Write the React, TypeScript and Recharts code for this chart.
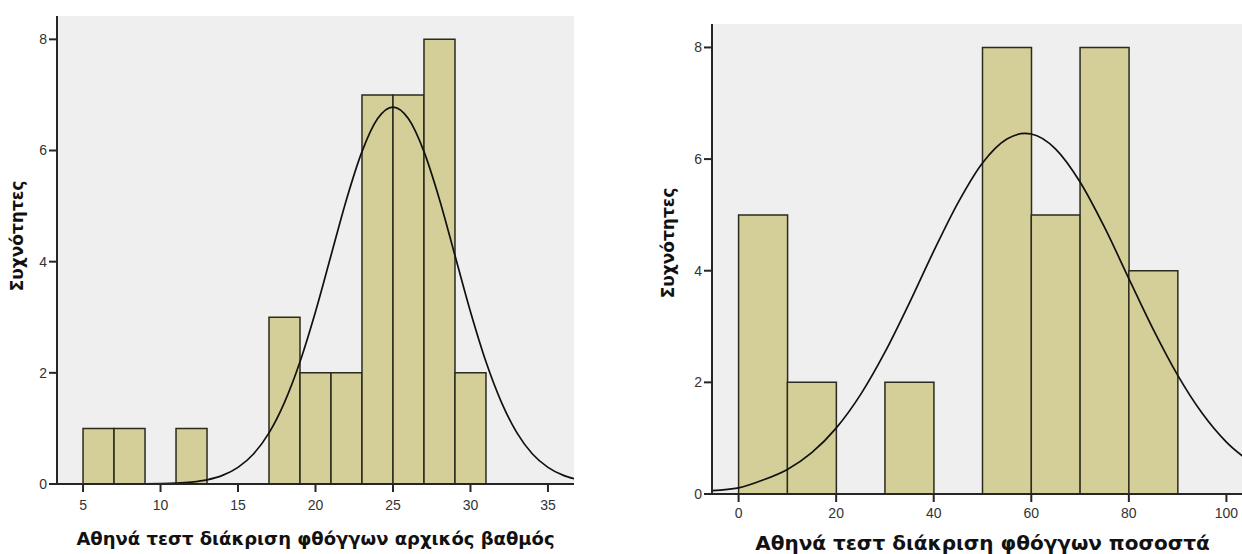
import { ComposedChart, Bar, Line, XAxis, YAxis, CartesianGrid, Label } from "recharts";

// left histogram: initial score (bin width 2, bin centers)
const scoreBins = [6, 8, 10, 12, 14, 16, 18, 20, 22, 24, 26, 28, 30];
const scoreCounts = [1, 1, 0, 1, 0, 0, 3, 2, 2, 7, 7, 8, 2];
const scoreTicks = [5, 10, 15, 20, 25, 30, 35];
const scoreCurveX = [3.32, 5, 6, 7, 8, 9, 10, 11, 12, 13, 14, 15, 16, 17, 18, 19, 20, 21, 22, 23, 24, 25, 26, 27, 28, 29, 30, 31, 32, 33, 34, 35, 36, 36.68];
const scoreCurveY = [0, 0, 0, 0, 0.001, 0.002, 0.006, 0.015, 0.035, 0.075, 0.155, 0.3, 0.54, 0.92, 1.47, 2.2, 3.1, 4.11, 5.12, 5.98, 6.57, 6.78, 6.57, 5.98, 5.12, 4.11, 3.1, 2.2, 1.47, 0.92, 0.54, 0.3, 0.155, 0.096];

// right histogram: percentage (bin width 10, bin centers)
const pctBins = [5, 15, 25, 35, 45, 55, 65, 75, 85];
const pctCounts = [5, 2, 0, 2, 0, 8, 5, 8, 4];
const pctTicks = [0, 20, 40, 60, 80, 100];
const pctCurveX = [-5.45, 0, 5, 10, 15, 20, 25, 30, 35, 40, 45, 50, 55, 58.7, 60, 65, 70, 75, 80, 85, 90, 95, 100, 105.45];
const pctCurveY = [0.061, 0.11, 0.25, 0.44, 0.74, 1.18, 1.78, 2.54, 3.42, 4.35, 5.22, 5.93, 6.36, 6.46, 6.45, 6.18, 5.59, 4.78, 3.86, 2.95, 2.13, 1.45, 0.93, 0.54];

const freqTicks = [0, 2, 4, 6, 8];
const yLabel = "Συχνότητες";

const FILL = "#d4cf98";
const EDGE = "#2a2a1e";
const FRAME = "#262626";
const BG = "#efefef";
const FONT = "'Liberation Sans', Arial, sans-serif";
const TITLE_FONT = "'DejaVu Sans', Verdana, sans-serif";

interface HistProps {
  bins: number[];
  counts: number[];
  ticks: number[];
  curveX: number[];
  curveY: number[];
  domain: [number, number];
  title: string;
  titleSize: number;
  width: number;
  height: number;
  margin: { top: number; right: number; left: number; bottom: number };
  xAxisHeight: number;
  tickGap: number;
  titleOffset: number;
  yTitleOffset: number;
  yTitleShift: number;
}

function Histogram(p: HistProps) {
  const data = p.bins.map((b, i) => ({ x: b, n: p.counts[i] }));
  const curve = p.curveX.map((x, i) => ({ x, y: p.curveY[i] }));
  const frame = { stroke: FRAME, strokeWidth: 2 };
  return (
    <ComposedChart
      width={p.width}
      height={p.height}
      data={data}
      margin={p.margin}
      barCategoryGap={0}
      barGap={0}
    >
      <CartesianGrid fill={BG} horizontal={false} vertical={false} xAxisId="bins" />
      <XAxis
        xAxisId="bins"
        dataKey="x"
        type="number"
        domain={p.domain}
        ticks={p.ticks}
        allowDataOverflow
        height={p.xAxisHeight}
        tickSize={8}
        tickMargin={p.tickGap}
        stroke={FRAME}
        axisLine={frame}
        tickLine={frame}
        tick={{ fontSize: 14, fill: "#333", fontFamily: FONT }}
      >
        <Label
          value={p.title}
          position="insideBottom"
          offset={p.titleOffset}
          style={{ fontSize: p.titleSize, fontWeight: "bold", fill: "#111", fontFamily: TITLE_FONT }}
        />
      </XAxis>
      <XAxis
        xAxisId="curve"
        dataKey="x"
        type="number"
        orientation="top"
        domain={p.domain}
        allowDataOverflow
        height={0}
        tick={false}
        tickLine={false}
        stroke={FRAME}
        axisLine={frame}
      />
      <YAxis
        domain={[0, 8.42]}
        ticks={freqTicks}
        allowDataOverflow
        width={57}
        tickSize={8}
        stroke={FRAME}
        axisLine={frame}
        tickLine={frame}
        tick={{ fontSize: 14, fill: "#333", fontFamily: FONT }}
      >
        <Label
          value={yLabel}
          angle={-90}
          position="insideLeft"
          offset={p.yTitleOffset}
          dy={p.yTitleShift}
          style={{ textAnchor: "middle", fontSize: 17, fontWeight: "bold", fill: "#111", fontFamily: TITLE_FONT }}
        />
      </YAxis>
      <YAxis
        yAxisId="frame"
        orientation="right"
        domain={[0, 8.42]}
        width={0}
        tick={false}
        tickLine={false}
        stroke={FRAME}
        axisLine={frame}
      />
      <Bar
        xAxisId="bins"
        dataKey="n"
        fill={FILL}
        stroke={EDGE}
        strokeWidth={1.5}
        isAnimationActive={false}
      />
      <Line
        xAxisId="curve"
        data={curve}
        dataKey="y"
        type="monotone"
        stroke="#111"
        strokeWidth={1.7}
        dot={false}
        activeDot={false}
        isAnimationActive={false}
      />
    </ComposedChart>
  );
}

export default function App() {
  return (
    <div style={{ position: "relative", width: 1242, height: 554, overflow: "hidden", background: "#fff" }}>
      <style>{"body{margin:0;overflow:hidden}"}</style>
      <div style={{ position: "absolute", left: 0, top: 0 }}>
        <Histogram
          bins={scoreBins}
          counts={scoreCounts}
          ticks={scoreTicks}
          curveX={scoreCurveX}
          curveY={scoreCurveY}
          domain={[3.32, 36.68]}
          title="Αθηνά τεστ διάκριση φθόγγων αρχικός βαθμός"
          titleSize={18}
          width={600}
          height={554}
          margin={{ top: 16, right: 26, left: 0, bottom: 0 }}
          xAxisHeight={70}
          tickGap={8}
          titleOffset={9}
          yTitleOffset={17}
          yTitleShift={-14}
        />
      </div>
      <div style={{ position: "absolute", left: 655, top: 0 }}>
        <Histogram
          bins={pctBins}
          counts={pctCounts}
          ticks={pctTicks}
          curveX={pctCurveX}
          curveY={pctCurveY}
          domain={[-5.45, 105.45]}
          title="Αθηνά τεστ διάκριση φθόγγων ποσοστά"
          titleSize={20}
          width={608}
          height={554}
          margin={{ top: 24, right: 10, left: 0, bottom: 0 }}
          xAxisHeight={60}
          tickGap={6}
          titleOffset={4}
          yTitleOffset={13}
          yTitleShift={-16}
        />
      </div>
    </div>
  );
}
